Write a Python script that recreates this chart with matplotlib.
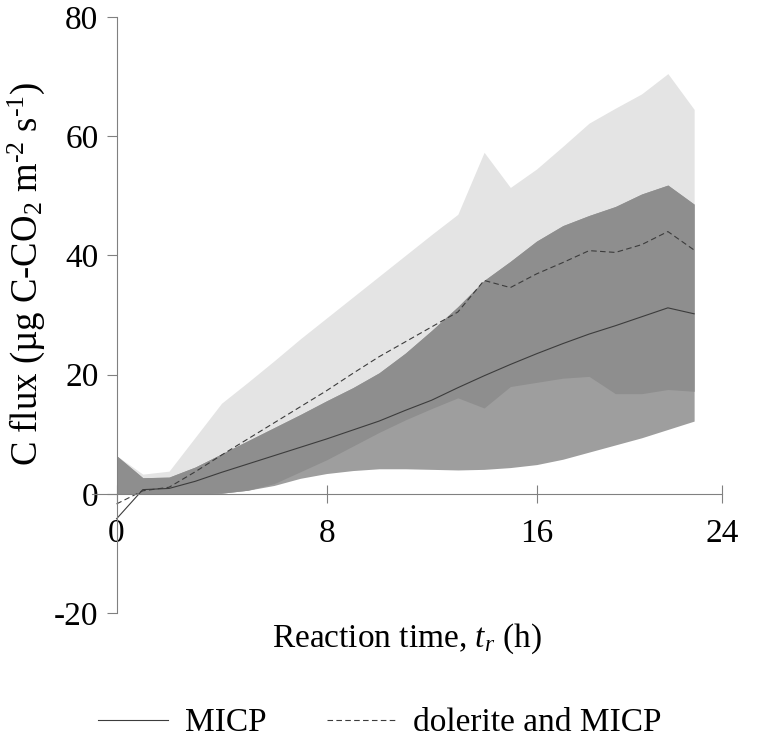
import matplotlib
matplotlib.use("Agg")
import matplotlib.pyplot as plt
import numpy as np

plt.rcParams['font.family'] = ['Liberation Serif', 'DejaVu Serif']
plt.rcParams['mathtext.fontset'] = 'custom'
plt.rcParams['mathtext.rm'] = 'Liberation Serif'
plt.rcParams['mathtext.it'] = 'Liberation Serif:italic'
plt.rcParams['axes.unicode_minus'] = False

# reaction time (h)
t = list(range(23))

# MICP mean and range
micp = [-4.2, 0.7, 0.9, 2.1, 3.6, 5.0, 6.4, 7.8, 9.2, 10.7, 12.2, 14.0, 15.7,
        17.8, 19.8, 21.7, 23.5, 25.2, 26.8, 28.2, 29.7, 31.2, 30.2]
micp_lo = [0, 0, 0, 0, 0.1, 0.6, 1.4, 2.6, 3.4, 3.9, 4.2, 4.2, 4.1,
           4.0, 4.1, 4.4, 4.9, 5.8, 7.0, 8.2, 9.4, 10.8, 12.2]
micp_hi = [6.4, 2.7, 2.8, 4.5, 6.7, 8.9, 11.1, 13.3, 15.6, 17.8, 20.3, 23.6, 27.4,
           31.4, 35.8, 39.0, 42.4, 45.0, 46.7, 48.2, 50.3, 51.8, 48.6]

# dolerite and MICP mean and range
dol = [-1.7, 0.5, 1.1, 3.7, 6.5, 9.2, 11.9, 14.6, 17.3, 20.2, 23.0, 25.5, 28.0,
       30.5, 35.8, 34.6, 36.9, 38.8, 40.8, 40.5, 41.8, 44.0, 40.9]
dol_lo = [0, 0, 0, 0, 0.1, 0.6, 1.7, 3.7, 5.7, 8.0, 10.3, 12.4, 14.3,
          16.1, 14.4, 18.0, 18.7, 19.4, 19.7, 16.8, 16.8, 17.5, 17.2]
dol_hi = [6.4, 3.3, 3.8, 9.5, 15.2, 18.7, 22.3, 26.0, 29.5, 33.0, 36.5, 40.0, 43.5,
          46.9, 57.3, 51.4, 54.5, 58.3, 62.2, 64.7, 67.1, 70.5, 64.5]

xtick_pos = [0, 8, 16, 23.05]
xtick_labels = ['0', '8', '16', '24']
ytick_pos = [-20, 0, 20, 40, 60, 80]

fig = plt.figure(figsize=(7.74, 7.49), dpi=100)
ax = fig.add_axes([91.6 / 774, 1 - 613 / 749, (721.7 - 91.6) / 774, 596 / 749])

light, medium, dark = '#e4e4e4', '#9e9e9e', '#8e8e8e'
ax.fill_between(t, dol_lo, dol_hi, color=light, lw=0)
ax.fill_between(t, micp_lo, micp_hi, color=medium, lw=0)
ax.fill_between(t, np.maximum(micp_lo, dol_lo), np.minimum(micp_hi, dol_hi),
                color=dark, lw=0)

ax.plot(t, micp, color='#3c3c3c', lw=0.8, label='MICP')
ax.plot(t, dol, color='#3c3c3c', lw=0.8, dashes=(5, 3), label='dolerite and MICP')

ax.set_xlim(-0.95, 23.05)
ax.set_ylim(-20, 80)

for s in ['top', 'right']:
    ax.spines[s].set_visible(False)
ax.spines['left'].set_position(('data', 0))
ax.spines['bottom'].set_position(('data', 0))
for s in ['left', 'bottom']:
    ax.spines[s].set_color('#808080')
    ax.spines[s].set_linewidth(0.8)

ax.set_xticks(xtick_pos)
ax.set_xticklabels(xtick_labels)
ax.set_yticks(ytick_pos)
ax.tick_params(axis='x', direction='inout', length=13, width=0.8, color='#808080',
               labelsize=24, pad=11)
ax.tick_params(axis='y', direction='out', length=7, width=0.8, color='#808080',
               labelsize=24, pad=6)

ax.set_xlabel(r'Reaction time, $\mathit{t_r}$ (h)', fontsize=24)
ax.xaxis.set_label_coords(0.5, -0.015)
ax.set_ylabel(r'C flux (µg C-CO$_2$ m$^{\text{-2}}$ s$^{\text{-1}}$)', fontsize=26.5)
ax.yaxis.set_label_coords(-0.071, 0.569)

fig.legend(loc='center', bbox_to_anchor=(380 / 774, 1 - 723 / 749), ncol=2,
           frameon=False, fontsize=24, handlelength=2.1, handletextpad=0.5,
           columnspacing=1.8)

fig.savefig('out.png', dpi=100)
